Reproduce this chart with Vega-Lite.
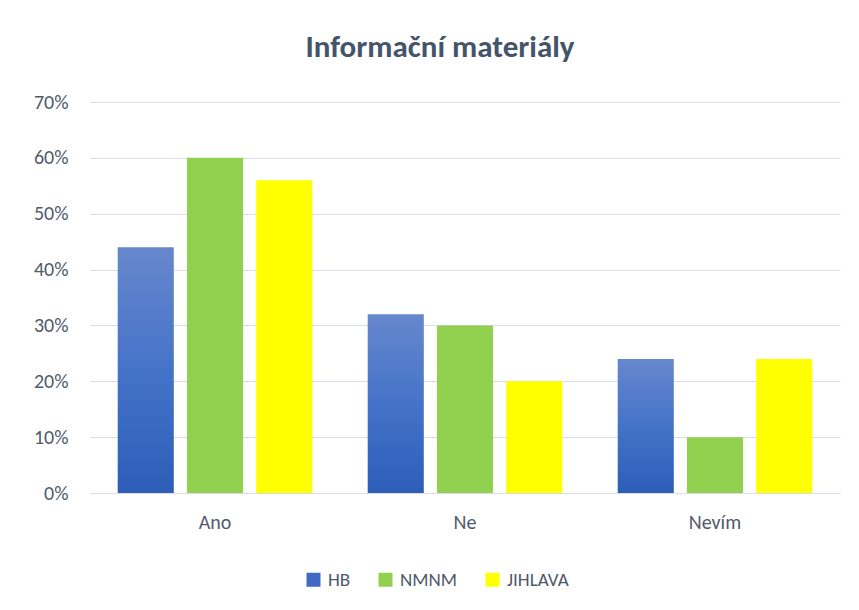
{
  "$schema": "https://vega.github.io/schema/vega-lite/v6.json",
  "autosize": {"type": "none"},
  "padding": {"left": 90, "top": 102, "right": 19, "bottom": 117},
  "width": 750,
  "height": 391,
  "background": "white",
  "title": {
    "text": "Informační materiály",
    "font": "Carlito, Calibri, Lato",
    "fontSize": 31,
    "fontWeight": "bold",
    "color": "#44546a",
    "anchor": "middle",
    "dx": -25,
    "offset": 28
  },
  "data": {
    "values": [
      {"category": "Ano", "series": "HB", "value": 0.44},
      {"category": "Ano", "series": "NMNM", "value": 0.60},
      {"category": "Ano", "series": "JIHLAVA", "value": 0.56},
      {"category": "Ne", "series": "HB", "value": 0.32},
      {"category": "Ne", "series": "NMNM", "value": 0.30},
      {"category": "Ne", "series": "JIHLAVA", "value": 0.20},
      {"category": "Nevím", "series": "HB", "value": 0.24},
      {"category": "Nevím", "series": "NMNM", "value": 0.10},
      {"category": "Nevím", "series": "JIHLAVA", "value": 0.24}
    ]
  },
  "mark": {"type": "bar"},
  "encoding": {
    "x": {
      "field": "category",
      "type": "nominal",
      "sort": ["Ano", "Ne", "Nevím"],
      "scale": {"paddingInner": 0, "paddingOuter": 0},
      "axis": {
        "title": null,
        "labelAngle": 0,
        "ticks": false,
        "domain": true,
        "domainColor": "#d9dde5",
        "domainWidth": 1,
        "labelPadding": 19,
        "labelFontSize": 20,
        "labelFont": "Carlito, Calibri, Lato",
        "labelColor": "#505a6b"
      }
    },
    "xOffset": {
      "field": "series",
      "type": "nominal",
      "sort": ["HB", "NMNM", "JIHLAVA"],
      "scale": {"paddingInner": 0.19, "paddingOuter": 0.4}
    },
    "y": {
      "field": "value",
      "type": "quantitative",
      "scale": {"domain": [0, 0.7], "nice": false},
      "axis": {
        "title": null,
        "format": ".0%",
        "values": [0, 0.1, 0.2, 0.3, 0.4, 0.5, 0.6, 0.7],
        "labelOverlap": false,
        "domain": false,
        "ticks": false,
        "grid": true,
        "gridColor": "#d9dde5",
        "gridWidth": 1,
        "labelPadding": 22,
        "labelFontSize": 20,
        "labelFont": "Carlito, Calibri, Lato",
        "labelColor": "#505a6b"
      }
    },
    "color": {
      "field": "series",
      "type": "nominal",
      "scale": {
        "domain": ["HB", "NMNM", "JIHLAVA"],
        "range": ["#3e6ac2", "#92d050", "#ffff00"]
      },
      "condition": {
        "test": "datum.series === 'HB'",
        "value": {
          "gradient": "linear",
          "x1": 0, "y1": 0, "x2": 0, "y2": 1,
          "stops": [
            {"offset": 0, "color": "#6787cd"},
            {"offset": 0.5, "color": "#4573c9"},
            {"offset": 1, "color": "#2d5db8"}
          ]
        }
      },
      "legend": {
        "title": null,
        "orient": "none",
        "direction": "horizontal",
        "legendX": 214,
        "legendY": 468,
        "symbolType": "square",
        "symbolSize": 196,
        "symbolStrokeWidth": 0,
        "labelFontSize": 19,
        "labelFont": "Carlito, Calibri, Lato",
        "labelColor": "#505a6b",
        "labelOffset": 5,
        "columnPadding": 25
      }
    }
  },
  "config": {
    "view": {"stroke": null}
  }
}
